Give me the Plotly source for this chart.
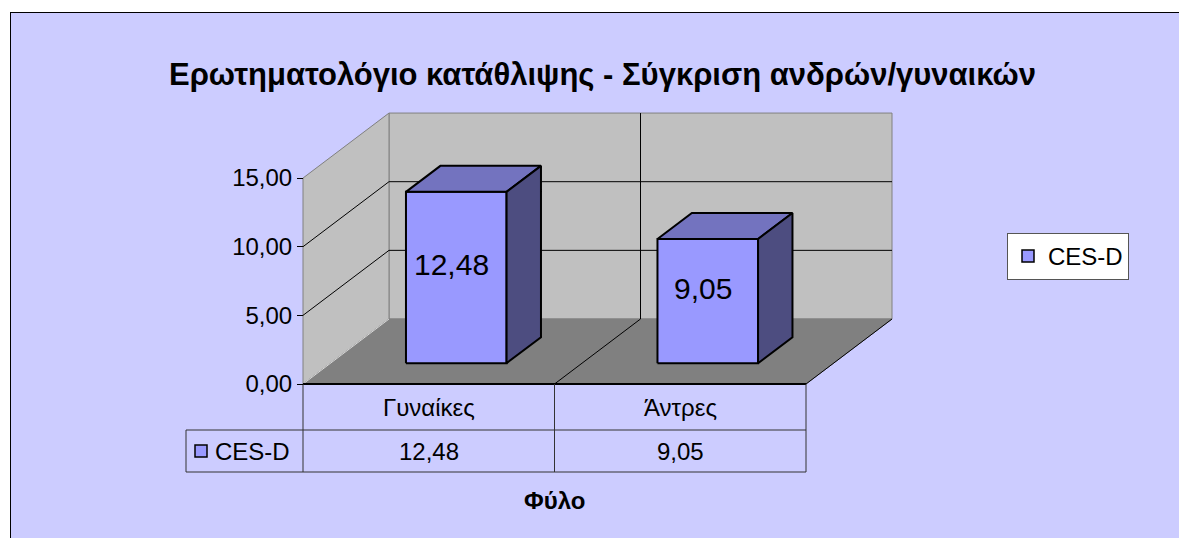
import plotly.graph_objects as go

categories = ["Γυναίκες", "Άντρες"]
ces_d = [12.48, 9.05]
series_name = "CES-D"
y_ticks = [0, 5, 10, 15]
title_text = "Ερωτηματολόγιο κατάθλιψης - Σύγκριση ανδρών/γυναικών"
axis_title = "Φύλο"

FONT = "Liberation Sans, Arial, sans-serif"
W, H = 1179, 538
# plot area in pixels
L, R, T, B = 180, 900, 90, 525
# front-left corner of the floor and the scale of the fake 3d box
X0_PX, Y0_PX = 303, 384
CAT_PX = 251.5
VAL_PX = 13.73
DEPTH_DX, DEPTH_DY = 86, 65

n = len(categories)
ymax = y_ticks[-1]
dx = DEPTH_DX / CAT_PX
dy = DEPTH_DY / VAL_PX


def fx(px):
    return (px - X0_PX) / CAT_PX


def fy(py):
    return (Y0_PX - py) / VAL_PX


def paper_x(px):
    return (px - L) / (R - L)


def paper_y(py):
    return (B - py) / (B - T)


def fmt(v):
    return f"{v:.2f}".replace(".", ",")


fig = go.Figure()


def poly(xs, ys, fill, line="#808080", width=1):
    fig.add_trace(go.Scatter(x=xs + [xs[0]], y=ys + [ys[0]], mode="lines", fill="toself",
                             fillcolor=fill, line=dict(color=line, width=width),
                             hoverinfo="skip", showlegend=False))


def seg(xs, ys, color="black", width=1):
    fig.add_trace(go.Scatter(x=xs, y=ys, mode="lines", line=dict(color=color, width=width),
                             hoverinfo="skip", showlegend=False))


# walls and floor
poly([dx, n + dx, n + dx, dx], [dy, dy, ymax + dy, ymax + dy], "#C0C0C0")
poly([0, dx, dx, 0], [0, dy, ymax + dy, ymax], "#C0C0C0")
poly([0, n, n + dx, dx], [0, 0, dy, dy], "#808080")
seg([0, dx], [0, dy], "#D8D8D8")

for v in y_ticks[1:-1]:
    seg([0, dx, n + dx], [v, v + dy, v + dy])
for i in range(1, n):
    seg([i + dx, i + dx], [dy, ymax + dy])
    seg([i, i + dx], [0, dy])
seg([n, n + dx], [0, dy])

# bars
t0, t1, hw = 0.32, 0.72, 0.2
ddx, ddy = (t1 - t0) * dx, (t1 - t0) * dy
for i, v in enumerate(ces_d):
    xl = i + 0.5 - hw + t0 * dx
    xr = i + 0.5 + hw + t0 * dx
    yb = t0 * dy
    yt = v + t0 * dy
    poly([xl, xr, xr, xl], [yb, yb, yt, yt], "#9999FF", "black", 2)
    poly([xl, xr, xr + ddx, xl + ddx], [yt, yt, yt + ddy, yt + ddy], "#7373BF", "black", 2)
    poly([xr, xr + ddx, xr + ddx, xr], [yb, yb + ddy, yt + ddy, yt], "#4D4D80", "black", 2)
    fig.add_annotation(x=(xl + xr) / 2 - 0.02, y=v / 2 + (t0 + t1) / 2 * dy, text=fmt(v),
                       showarrow=False, font=dict(size=30, color="black"))

# data table under the floor
hy = fy(430)
by = fy(472)
xleft = fx(186)
seg([0, n], [0, 0], "black", 2)
seg([xleft, n], [hy, hy], "#333333")
seg([xleft, n], [by, by], "#333333")
seg([xleft, xleft], [hy, by], "#333333")
for i in range(n + 1):
    seg([i, i], [0, by], "#333333")
for i, (c, v) in enumerate(zip(categories, ces_d)):
    fig.add_annotation(x=i + 0.5, y=hy / 2, text=c, showarrow=False,
                       font=dict(size=24, color="black"))
    fig.add_annotation(x=i + 0.5, y=(hy + by) / 2, text=fmt(v), showarrow=False,
                       font=dict(size=24, color="black"))
fig.add_trace(go.Scatter(x=[fx(201)], y=[(hy + by) / 2], mode="markers",
                         marker=dict(symbol="square", size=12, color="#9999FF",
                                     line=dict(color="black", width=1.5)),
                         hoverinfo="skip", showlegend=False))
fig.add_annotation(x=fx(213), y=(hy + by) / 2, text=series_name, xanchor="left",
                   showarrow=False, font=dict(size=24, color="black"))
fig.add_annotation(x=n / 2, y=fy(500), text=f"<b>{axis_title}</b>", showarrow=False,
                   font=dict(size=24, color="black"))

# legend entry
fig.add_trace(go.Scatter(x=[None], y=[None], mode="markers", name=series_name,
                         marker=dict(symbol="square", size=12, color="#9999FF",
                                     line=dict(color="black", width=1.5))))

fig.add_annotation(x=paper_x(602), y=paper_y(55), xref="paper", yref="paper",
                   text=f"<b>{title_text}</b>", showarrow=False,
                   font=dict(size=31, color="black"))

# white strips left and top of the chart area, with its border
fig.add_shape(type="rect", xref="paper", yref="paper", layer="below",
              x0=paper_x(-20), x1=paper_x(10), y0=paper_y(600), y1=paper_y(-20),
              fillcolor="white", line_width=0)
fig.add_shape(type="rect", xref="paper", yref="paper", layer="below",
              x0=paper_x(-20), x1=paper_x(1300), y0=paper_y(12), y1=paper_y(-20),
              fillcolor="white", line_width=0)
fig.add_shape(type="line", xref="paper", yref="paper", layer="below",
              x0=paper_x(10.5), x1=paper_x(10.5), y0=paper_y(600), y1=paper_y(12),
              line=dict(color="black", width=1))
fig.add_shape(type="line", xref="paper", yref="paper", layer="below",
              x0=paper_x(10), x1=paper_x(1300), y0=paper_y(12.5), y1=paper_y(12.5),
              line=dict(color="black", width=1))

fig.update_layout(
    width=W, height=H,
    margin=dict(l=L, r=W - R, t=T, b=H - B),
    paper_bgcolor="#CCCCFF", plot_bgcolor="rgba(0,0,0,0)",
    font=dict(family=FONT, color="black"),
    separators=",.",
    showlegend=True,
    legend=dict(x=paper_x(1007), y=paper_y(233), xanchor="left", yanchor="top",
                bgcolor="white", bordercolor="#555555", borderwidth=1,
                itemwidth=30, font=dict(size=24)),
    xaxis=dict(range=[fx(L), fx(R)], visible=False, fixedrange=True),
    yaxis=dict(range=[fy(B), fy(T)], anchor="free", position=paper_x(X0_PX),
               tickvals=y_ticks, tickformat=".2f", ticks="outside", ticklen=6,
               tickcolor="black", tickfont=dict(size=24), showgrid=False,
               zeroline=False, showline=False, fixedrange=True),
)

fig.write_html("out.html", config={"displayModeBar": False},
               post_script="document.body.style.margin='0';"
                           "document.body.style.overflow='hidden';")
